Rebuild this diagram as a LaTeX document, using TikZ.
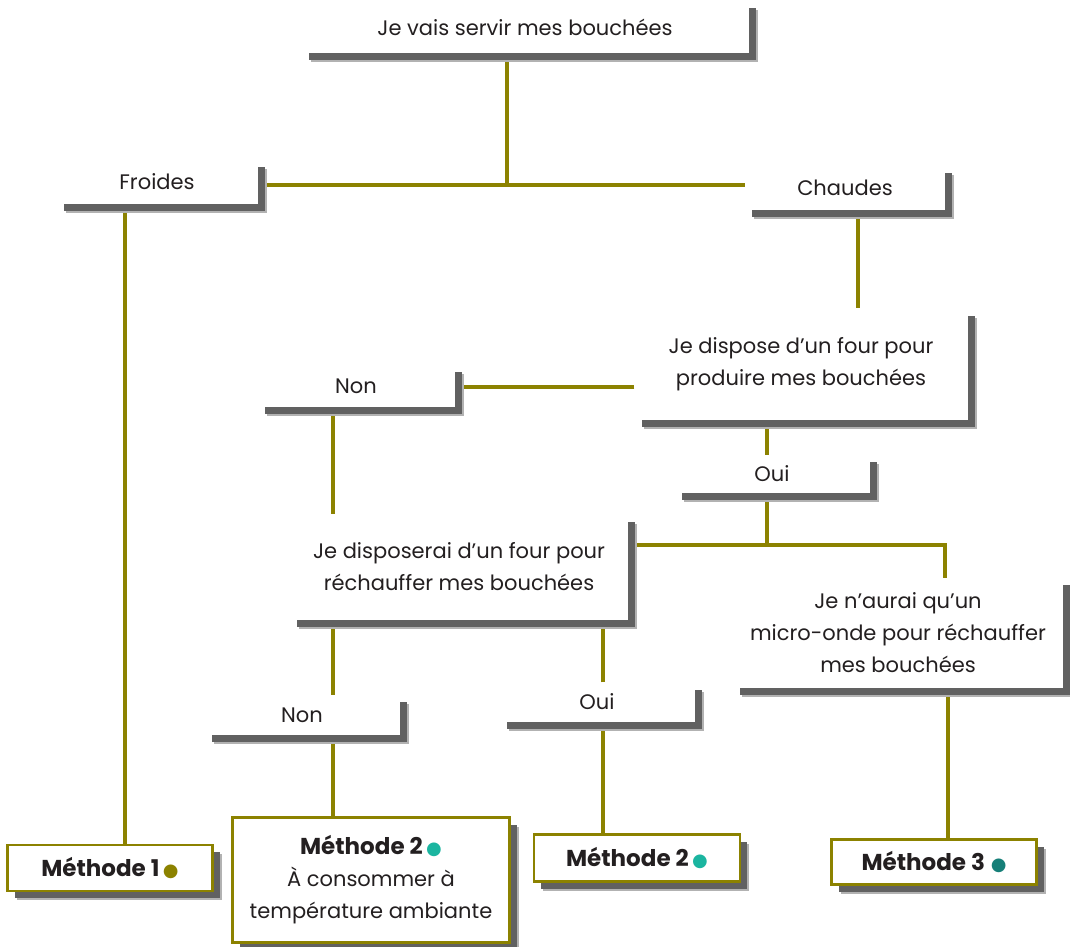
\documentclass[tikz,border=0pt]{standalone}
\usepackage{fontspec}
\setmainfont{Poppins}
\newfontfamily\dotfont{DejaVu Sans}
\usetikzlibrary{positioning,shadows,backgrounds}

\definecolor{linkolive}{HTML}{8C8200}
\definecolor{dotteal}{HTML}{1BB5A0}
\definecolor{dotdark}{HTML}{167F78}
\definecolor{textgrey}{HTML}{231F20}

\newcommand{\mdot}[1]{{\fontsize{18}{18}\dotfont\textcolor{#1}{●}}}
\newcommand{\mtitle}[1]{{\fontsize{23}{30}\selectfont\bfseries #1}}

\tikzset{
  box/.style={fill=white, inner sep=0pt, align=center, text=textgrey,
    font=\fontsize{21}{32}\selectfont,
    drop shadow={shadow xshift=9pt, shadow yshift=-9pt, fill=black!30, opacity=1},
    drop shadow={shadow xshift=7pt, shadow yshift=-7pt, fill=black!62, opacity=1}},
  method/.style={box, draw=linkolive, line width=2.5pt},
  link/.style={draw=linkolive, line width=4.5pt},
}

\begin{document}
\begin{tikzpicture}[x=1pt,y=-1pt]

  \useasboundingbox (0,0) rectangle (1070,946);

  % questions
  \node[box, minimum width=447, minimum height=52] (top) at (525,27) {Je vais servir mes bouchées};
  \node[box, minimum width=201, minimum height=44] (froides) at (157,182) {Froides};
  \node[box, minimum width=200, minimum height=44] (chaudes) at (845,188) {Chaudes};
  \node[box, minimum width=333, minimum height=111] (dispose) at (801,364) {Je dispose d’un four pour\\produire mes bouchées};
  \node[box, minimum width=197, minimum height=42] (non1) at (356,386) {Non};
  \node[box, minimum width=195, minimum height=38] (oui1) at (772,474) {Oui};
  \node[box, minimum width=338, minimum height=105] (disposerai) at (459,567) {Je disposerai d’un four pour\\réchauffer mes bouchées};
  \node[box, minimum width=330, minimum height=110] (naurai) at (898,633) {Je n’aurai qu’un\\micro-onde pour réchauffer\\mes bouchées};
  \node[box, minimum width=195, minimum height=40] (non2) at (302,715) {Non};
  \node[box, minimum width=195, minimum height=39] (oui2) at (597,702) {Oui};

  % methods
  \node[method, minimum width=205, minimum height=46] (m1) at (110,868) {\mtitle{Méthode 1}\,\mdot{linkolive}};
  \node[method, minimum width=277, minimum height=125] (m2a) at (371,880) {\mtitle{Méthode 2}\,\mdot{dotteal}\\À consommer à\\température ambiante};
  \node[method, minimum width=206, minimum height=47] (m2b) at (637,858) {\mtitle{Méthode 2}\,\mdot{dotteal}};
  \node[method, minimum width=205, minimum height=45] (m3) at (934,862) {\mtitle{Méthode 3}\;\mdot{dotdark}};

  \coordinate (j1) at (507,185);
  \coordinate (j2) at (767,545);

  \begin{scope}[on background layer]
    \fill[white] (0,0) rectangle (1070,946);
    \draw[link] (froides.east |- j1) -- (chaudes.west |- j1);
    \draw[link] (j1) -- (j1 |- top.south);
    \draw[link] ([xshift=-32pt]froides.south) -- ([xshift=-32pt]froides.south |- m1.north);
    \draw[link] ([xshift=13pt]chaudes.south) -- ([xshift=13pt]chaudes.south |- dispose.north);
    \draw[link] ([yshift=-23pt]dispose.west) -- ([yshift=-23pt]dispose.west -| non1.east);
    \draw[link] ([xshift=-34pt]dispose.south) -- ([xshift=-34pt]dispose.south |- oui1.north);
    \draw[link] (j2 |- oui1.south) -- (j2);
    \draw[link] (disposerai.east |- j2) -| ([xshift=47pt]naurai.north);
    \draw[link] ([xshift=-23pt]non1.south) -- ([xshift=-23pt]non1.south |- disposerai.north);
    \draw[link] ([xshift=31pt]non2.north) -- ([xshift=31pt]non2.north |- disposerai.south);
    \draw[link] ([xshift=6pt]oui2.north) -- ([xshift=6pt]oui2.north |- disposerai.south);
    \draw[link] ([xshift=31pt]non2.south) -- ([xshift=31pt]non2.south |- m2a.north);
    \draw[link] ([xshift=6pt]oui2.south) -- ([xshift=6pt]oui2.south |- m2b.north);
    \draw[link] ([xshift=50pt]naurai.south) -- ([xshift=50pt]naurai.south |- m3.north);
  \end{scope}

\end{tikzpicture}
\end{document}
